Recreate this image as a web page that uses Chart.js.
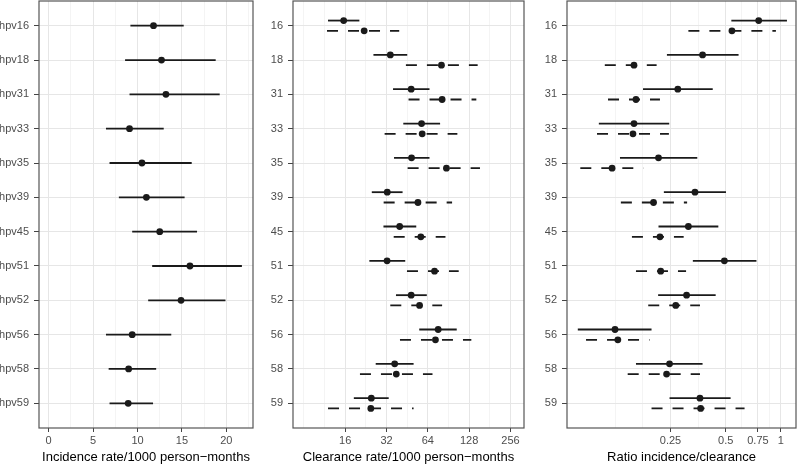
<!DOCTYPE html>
<html>
<head>
<meta charset="utf-8">
<script src="https://cdn.jsdelivr.net/npm/chart.js"></script>
<style>
    body { margin: 0; background: #fff; overflow: hidden; }
    .panel { position: absolute; top: -3px; height: 468px; }
</style>
</head>
<body>
<div class="panel" style="left:0;width:258px"><canvas id="incidence"></canvas></div>
<div class="panel" style="left:258px;width:270px"><canvas id="clearance"></canvas></div>
<div class="panel" style="left:530px;width:270px"><canvas id="ratio"></canvas></div>
<script>
// HPV types, top to bottom
const types = ['16', '18', '31', '33', '35', '39', '45', '51', '52', '56', '58', '59'];
const typeLabels = types.map(t => 'hpv' + t);

// incidence rate / 1000 person-months
const incRate = [11.8, 12.7, 13.2, 9.1, 10.5, 11.0, 12.5, 15.9, 14.9, 9.4, 9.0, 8.95];
const incLow = [9.2, 8.6, 9.1, 6.45, 6.85, 7.9, 9.4, 11.65, 11.2, 6.45, 6.75, 6.85];
const incHigh = [15.2, 18.8, 19.25, 12.95, 16.1, 15.3, 16.7, 21.75, 19.9, 13.8, 12.1, 11.75];

// clearance rate / 1000 person-months (first estimate, solid)
const clr1Rate = [15.6, 34.1, 48.4, 57.6, 48.7, 32.4, 39.9, 32.3, 48.4, 76.1, 36.7, 24.8];
const clr1Low = [12.0, 25.7, 35.7, 42.4, 36.3, 25.0, 30.4, 24.0, 37.5, 55.4, 26.7, 18.5];
const clr1High = [20.3, 45.3, 65.8, 78.6, 65.8, 41.9, 52.7, 43.8, 62.9, 103.9, 50.4, 33.2];

// clearance rate (second estimate, dashed)
const clr2Rate = [22.0, 80.4, 81.3, 58.2, 87.4, 54.2, 56.9, 71.6, 55.7, 72.7, 37.7, 24.6];
const clr2Low = [11.8, 44.3, 46.3, 31.0, 45.6, 30.5, 36.1, 45.1, 34.1, 40.1, 20.5, 12.0];
const clr2High = [39.6, 147.6, 144.3, 105, 153.4, 96.1, 86.0, 107.4, 81.3, 132.7, 69.2, 50.4];

// ratio incidence / clearance (solid)
const ratio1 = [0.757, 0.374, 0.274, 0.158, 0.215, 0.34, 0.313, 0.492, 0.306, 0.1245, 0.247, 0.362];
const ratio1Low = [0.537, 0.239, 0.177, 0.1016, 0.1325, 0.23, 0.215, 0.331, 0.214, 0.078, 0.162, 0.247];
const ratio1High = [1.08, 0.588, 0.425, 0.246, 0.35, 0.502, 0.456, 0.736, 0.441, 0.197, 0.374, 0.532];

// ratio (dashed)
const ratio2 = [0.541, 0.158, 0.162, 0.156, 0.12, 0.202, 0.219, 0.221, 0.267, 0.129, 0.238, 0.365];
const ratio2Low = [0.313, 0.1095, 0.114, 0.0993, 0.0805, 0.134, 0.154, 0.162, 0.189, 0.0865, 0.146, 0.197];
const ratio2High = [0.94, 0.21, 0.219, 0.245, 0.178, 0.308, 0.295, 0.304, 0.362, 0.192, 0.362, 0.634];

const incTicks = [0, 5, 10, 15, 20];
const clrTicks = [16, 32, 64, 128, 256];
const ratioTicks = [0.25, 0.5, 0.75, 1];

const INK = '#1a1a1a';
const DODGE = 0.15;

Chart.defaults.font.family = '"Liberation Sans", Arial, sans-serif';
Chart.defaults.animation = false;

// ggplot-like minor breaks (midpoints in transformed space)
function minorBreaks(major, lo, hi, log) {
    const f = log ? Math.log2 : v => v;
    const inv = log ? v => Math.pow(2, v) : v => v;
    const b = major.map(f);
    const d = b[1] - b[0];
    const ext = [b[0] - d, ...b, b[b.length - 1] + d];
    const out = [];
    for (let i = 0; i < ext.length - 1; i++) {
        out.push((ext[i] + ext[i + 1]) / 2);
    }
    out.push(ext[0]);
    out.push(ext[ext.length - 1]);
    return out.map(inv).filter(v => v > lo && v < hi && !major.some(m => Math.abs(m - v) < 1e-9));
}

const panelBorder = {
    id: 'panelBorder',
    afterDraw(chart) {
        const {ctx, chartArea: a} = chart;
        ctx.save();
        ctx.strokeStyle = '#555';
        ctx.lineWidth = 1.2;
        ctx.strokeRect(a.left, a.top, a.right - a.left, a.bottom - a.top);
        ctx.restore();
    }
};

function series(rate, low, high, off, dash) {
    const sets = [{
        data: rate.map((v, i) => ({x: v, y: i + off})),
        pointRadius: 3.4,
        pointBackgroundColor: INK,
        pointBorderWidth: 0,
        showLine: false
    }];
    low.forEach((lo, i) => {
        sets.push({
            data: [{x: lo, y: i + off}, {x: high[i], y: i + off}],
            showLine: true,
            pointRadius: 0,
            borderColor: INK,
            borderWidth: 1.8,
            borderDash: dash,
            fill: false
        });
    });
    return sets;
}

function makeChart(id, cfg) {
    const major = cfg.ticks;
    const minor = minorBreaks(major, cfg.min, cfg.max, cfg.log);
    const isMajor = v => major.some(m => Math.abs(m - v) < 1e-9);
    // points first so they are drawn on top of the intervals
    const pts = cfg.datasets.filter(d => !d.showLine);
    const lines = cfg.datasets.filter(d => d.showLine);
    return new Chart(document.getElementById(id), {
        type: 'scatter',
        data: {datasets: pts.concat(lines)},
        options: {
            responsive: true,
            maintainAspectRatio: false,
            layout: {padding: {top: 0, right: cfg.padRight, left: 0, bottom: 0}},
            plugins: {legend: {display: false}, tooltip: {enabled: false}},
            scales: {
                x: {
                    type: cfg.log ? 'logarithmic' : 'linear',
                    min: cfg.min,
                    max: cfg.max,
                    afterBuildTicks: s => {
                        s.ticks = major.concat(minor).sort((a, b) => a - b).map(v => ({value: v}));
                    },
                    afterFit: s => {
                        s.height = 37;
                        s.paddingLeft = 0;
                        s.paddingRight = 0;
                    },
                    border: {display: false},
                    grid: {
                        color: c => (c.tick && isMajor(c.tick.value)) ? '#e6e6e6' : '#efefef',
                        lineWidth: c => (c.tick && isMajor(c.tick.value)) ? 1 : 0.7,
                        tickColor: c => (c.tick && isMajor(c.tick.value)) ? '#444' : 'rgba(0,0,0,0)',
                        tickLength: 4
                    },
                    ticks: {
                        autoSkip: false,
                        maxRotation: 0,
                        padding: 2,
                        color: '#4d4d4d',
                        font: {size: 11},
                        callback: v => isMajor(v) ? (cfg.tickLabel ? cfg.tickLabel(v) : String(v)) : ''
                    },
                    title: {
                        display: true,
                        text: cfg.title,
                        color: '#000',
                        font: {size: 13},
                        padding: 0
                    }
                },
                y: {
                    type: 'linear',
                    reverse: true,
                    min: -0.72,
                    max: types.length - 1 + 0.72,
                    afterBuildTicks: s => {
                        s.ticks = types.map((t, i) => ({value: i}));
                    },
                    afterFit: s => {
                        s.width = cfg.yWidth;
                        s.paddingTop = 0;
                        s.paddingBottom = 0;
                    },
                    border: {display: false},
                    grid: {color: '#e6e6e6', tickColor: '#444', tickLength: 5},
                    ticks: {
                        autoSkip: false,
                        padding: 5,
                        color: '#4d4d4d',
                        font: {size: 11},
                        callback: v => cfg.yLabels[Math.round(v)]
                    }
                }
            }
        },
        plugins: [panelBorder]
    });
}

makeChart('incidence', {
    min: -1.09, max: 23.0, log: false,
    ticks: incTicks,
    yLabels: typeLabels, yWidth: 39, padRight: 5,
    title: 'Incidence rate/1000 person\u2212months',
    datasets: series(incRate, incLow, incHigh, 0, [])
});

makeChart('clearance', {
    min: 6.67, max: 321, log: true,
    ticks: clrTicks,
    yLabels: types, yWidth: 35, padRight: 3,
    title: 'Clearance rate/1000 person\u2212months',
    datasets: series(clr1Rate, clr1Low, clr1High, -DODGE, [])
        .concat(series(clr2Rate, clr2Low, clr2High, DODGE, [11, 10]))
});

makeChart('ratio', {
    min: 0.0681, max: 1.21, log: true,
    ticks: ratioTicks,
    yLabels: types, yWidth: 37, padRight: 2.5,
    title: 'Ratio incidence/clearance',
    datasets: series(ratio1, ratio1Low, ratio1High, -DODGE, [])
        .concat(series(ratio2, ratio2Low, ratio2High, DODGE, [11, 10]))
});
</script>
</body>
</html>
